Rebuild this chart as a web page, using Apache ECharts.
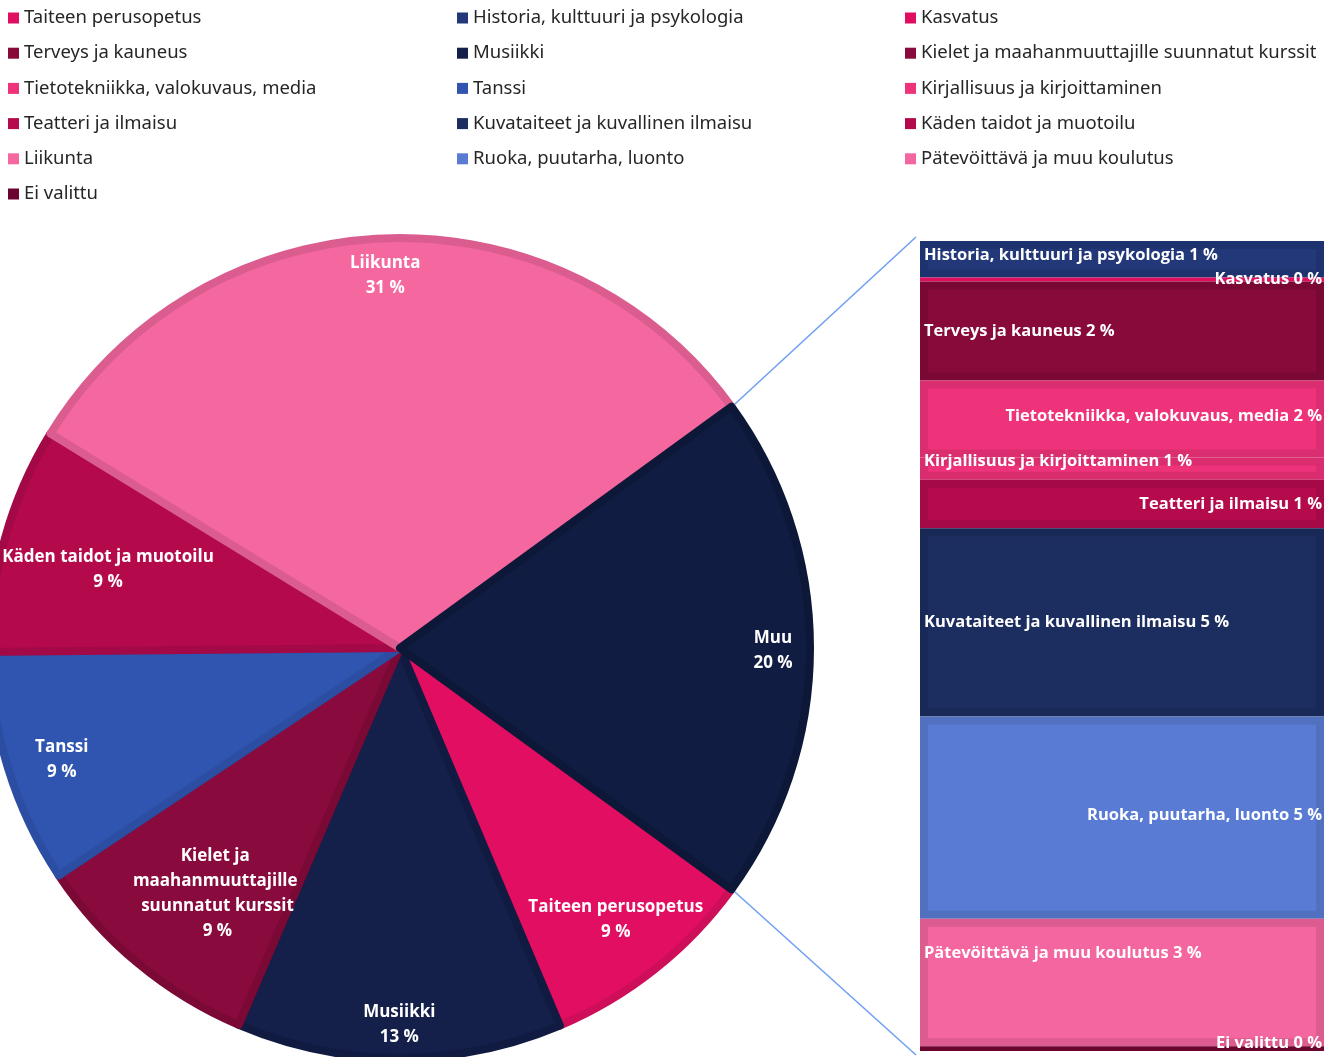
<!DOCTYPE html>
<html>
<head>
<meta charset="utf-8">
<script src="https://cdn.jsdelivr.net/npm/echarts@6/dist/echarts.min.js"></script>
<style>
  html, body { margin: 0; padding: 0; background: #fff; }
  #main { width: 1335px; height: 1057px; }
</style>
</head>
<body>
<div id="main"></div>
<script>
// pie slices (percent of all answers)
var pieNames = ['Taiteen perusopetus', 'Musiikki', 'Kielet ja maahanmuuttajille suunnatut kurssit',
  'Tanssi', 'Käden taidot ja muotoilu', 'Liikunta'];
var pieValues = [8.6, 12.8, 9.2, 9.2, 8.9, 31.2];
var restName = 'Muu';

// split-out bar (the "Muu" slice)
var barNames = ['Historia, kulttuuri ja psykologia', 'Kasvatus', 'Terveys ja kauneus',
  'Tietotekniikka, valokuvaus, media', 'Kirjallisuus ja kirjoittaminen', 'Teatteri ja ilmaisu',
  'Kuvataiteet ja kuvallinen ilmaisu', 'Ruoka, puutarha, luonto', 'Pätevöittävä ja muu koulutus', 'Ei valittu'];
var barValues = [0.9, 0.1, 2.45, 1.9, 0.55, 1.2, 4.65, 5.0, 3.15, 0.12];

// legend order as in the source (read row by row)
var legendOrder = ['Taiteen perusopetus', 'Historia, kulttuuri ja psykologia', 'Kasvatus',
  'Terveys ja kauneus', 'Musiikki', 'Kielet ja maahanmuuttajille suunnatut kurssit',
  'Tietotekniikka, valokuvaus, media', 'Tanssi', 'Kirjallisuus ja kirjoittaminen',
  'Teatteri ja ilmaisu', 'Kuvataiteet ja kuvallinen ilmaisu', 'Käden taidot ja muotoilu',
  'Liikunta', 'Ruoka, puutarha, luonto', 'Pätevöittävä ja muu koulutus', 'Ei valittu'];

// fill / rim colours
var colors = {
  'Taiteen perusopetus': ['#E20E61', '#CF0E59'],
  'Historia, kulttuuri ja psykologia': ['#223878', '#1E3270'],
  'Kasvatus': ['#E00E60', '#E00E60'],
  'Terveys ja kauneus': ['#870A3A', '#790834'],
  'Musiikki': ['#141F4A', '#111B41'],
  'Kielet ja maahanmuuttajille suunnatut kurssit': ['#890A3C', '#7A0935'],
  'Tietotekniikka, valokuvaus, media': ['#EE337A', '#DB2E71'],
  'Tanssi': ['#3055B0', '#2C4EA2'],
  'Kirjallisuus ja kirjoittaminen': ['#EE337A', '#D92D6F'],
  'Teatteri ja ilmaisu': ['#B50B4C', '#A50A46'],
  'Kuvataiteet ja kuvallinen ilmaisu': ['#1C2D60', '#192957'],
  'Käden taidot ja muotoilu': ['#B40A4C', '#A20946'],
  'Liikunta': ['#F4679F', '#DB5D8F'],
  'Ruoka, puutarha, luonto': ['#5A7BD3', '#5170C0'],
  'Pätevöittävä ja muu koulutus': ['#F4669F', '#DC5C8F'],
  'Ei valittu': ['#6A0530', '#6A0530'],
  'Muu': ['#101C41', '#0D1838']
};

var labelFont = 'Open Sans';
var CX = 400, CY = 648, R = 414, RIM = 8;
var BAR = { left: 916, top: 237, right: 1328, bottom: 1055 };
var barLabelNudge = [-4, 0, 0, -3, -7, 0, 0, -2, -29, -5];

function sum(a) { return a.reduce(function (s, v) { return s + v; }, 0); }
var restValue = sum(barValues);
var total = sum(pieValues) + restValue;
function pct(v) { return Math.round(v / total * 100) + ' %'; }
var half = restValue / total * 180;

var allPieNames = pieNames.concat([restName]);
var allPieValues = pieValues.concat([restValue]);

var pieData = allPieNames.map(function (n, i) {
  return { name: n, value: allPieValues[i], itemStyle: { color: colors[n][0], borderColor: colors[n][1] } };
});

// label rings: pie labels sit in the middle of [inner, R]
var labelRings = [
  { inner: 326, names: ['Liikunta', 'Muu'] },
  { inner: 334, names: ['Musiikki'] },
  { inner: 290, names: ['Tanssi'] },
  { inner: 274, names: ['Taiteen perusopetus'] },
  { inner: 198, names: ['Kielet ja maahanmuuttajille suunnatut kurssit'] },
  { inner: 186, names: ['Käden taidot ja muotoilu'] }
];
// small nudges of single labels: dx via left padding, dy via a spacer line
var labelTweak = {
  'Muu': { dy: 3 },
  'Käden taidot ja muotoilu': { dy: 3 },
  'Tanssi': { dx: 1, dy: 7 },
  'Kielet ja maahanmuuttajille suunnatut kurssit': { dx: 15, dy: 8, width: 180 }
};

var series = [{
  type: 'pie',
  center: [CX, CY],
  radius: [0, R - RIM / 2],
  startAngle: -half,
  clockwise: true,
  silent: true,
  label: { show: false },
  labelLine: { show: false },
  emphasis: { disabled: true },
  itemStyle: { borderWidth: RIM },
  data: pieData
}];

labelRings.forEach(function (ring) {
  series.push({
    type: 'pie',
    center: [CX, CY],
    radius: [ring.inner, R],
    startAngle: -half,
    clockwise: true,
    silent: true,
    legendHoverLink: false,
    labelLine: { show: false },
    emphasis: { disabled: true },
    z: 3,
    label: {
      show: true,
      position: 'inside',
      rotate: 0,
      color: '#fff',
      fontFamily: labelFont,
      fontWeight: 'bold',
      fontSize: 17,
      lineHeight: 25,
      align: 'center',
      formatter: function (p) {
        var t = labelTweak[p.name];
        return (t && t.dy ? '{s| }\n' : '') + p.name + '\n' + pct(p.value);
      }
    },
    data: allPieNames.map(function (n, i) {
      var item = { name: n, value: allPieValues[i], itemStyle: { color: 'rgba(0,0,0,0)' } };
      var t = labelTweak[n];
      if (ring.names.indexOf(n) < 0) item.label = { show: false };
      else if (t) {
        item.label = {
          padding: [0, 0, 0, (t.dx || 0) * 2],
          rich: { s: { lineHeight: (t.dy || 0) * 2, fontSize: 1 } }
        };
        if (t.width) { item.label.width = t.width; item.label.overflow = 'break'; }
      }
      return item;
    })
  });
});

barNames.forEach(function (n, i) {
  var right = i % 2 === 1;
  series.push({
    type: 'bar',
    name: n,
    stack: 'rest',
    barWidth: '100%',
    silent: true,
    emphasis: { disabled: true },
    data: [barValues[i]],
    itemStyle: {
      color: colors[n][0],
      borderColor: colors[n][1],
      borderWidth: barValues[i] < 0.3 ? 0 : RIM
    },
    label: {
      show: true,
      position: right ? 'insideRight' : 'insideLeft',
      distance: right ? 2 : 4,
      offset: [0, barLabelNudge[i]],
      color: '#fff',
      fontFamily: labelFont,
      fontWeight: 'bold',
      fontSize: 16.5,
      formatter: n + ' ' + pct(barValues[i])
    },
    z: 2
  });
});

var a = half * Math.PI / 180;
var px = CX + R * Math.cos(a);
var pyTop = CY - R * Math.sin(a);
var pyBot = CY + R * Math.sin(a);

var legendLeft = [8, 457, 905];
var legends = [0, 1, 2].map(function (c) {
  return {
    data: legendOrder.filter(function (_, i) { return i % 3 === c; }),
    orient: 'vertical',
    left: legendLeft[c],
    top: 8,
    itemWidth: 11,
    itemHeight: 11,
    itemGap: 15.2,
    icon: 'rect',
    selectedMode: false,
    padding: 0,
    itemStyle: { borderWidth: 0 },
    textStyle: { fontFamily: 'Noto Sans', fontSize: 18.5, color: '#262626', lineHeight: 20 }
  };
});

var chart = echarts.init(document.getElementById('main'));
chart.setOption({
  animation: false,
  backgroundColor: '#fff',
  legend: legends,
  grid: {
    left: BAR.left + RIM / 2,
    top: BAR.top + RIM / 2,
    width: BAR.right - BAR.left - RIM,
    height: BAR.bottom - BAR.top - RIM,
    containLabel: false
  },
  xAxis: { type: 'category', data: [''], show: false },
  yAxis: { type: 'value', min: 0, max: restValue, inverse: true, show: false },
  graphic: [
    { type: 'line', z: 10, shape: { x1: px, y1: pyTop, x2: BAR.left, y2: BAR.top },
      style: { stroke: '#6E9EF2', lineWidth: 1.5 } },
    { type: 'line', z: 10, shape: { x1: px, y1: pyBot, x2: BAR.left, y2: BAR.bottom },
      style: { stroke: '#6E9EF2', lineWidth: 1.5 } }
  ],
  series: series
});
</script>
</body>
</html>
